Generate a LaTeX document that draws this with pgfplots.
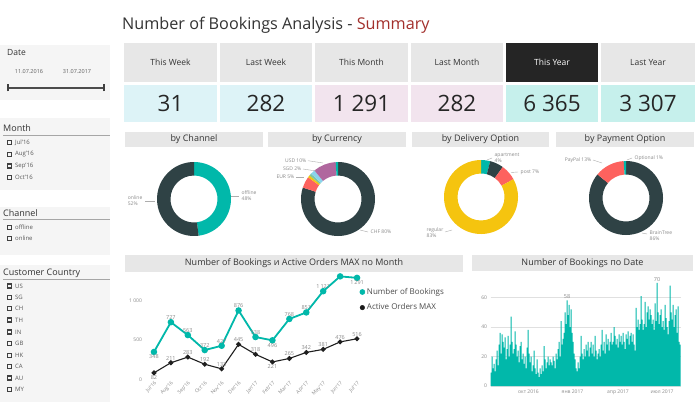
\documentclass[border=0pt]{standalone}
\usepackage{pgfplots}
\pgfplotsset{compat=1.18}
\usepackage{pgfplotstable}
\usepackage{fontspec}
\setmainfont{Open Sans}
\definecolor{pbteal}{HTML}{01B8AA}
\definecolor{pbdark}{HTML}{2F4245}
\definecolor{pbred}{HTML}{FD625E}
\definecolor{pbyellow}{HTML}{F5C40F}
\definecolor{pbgray}{HTML}{7FC8A0}
\definecolor{pblblue}{HTML}{8AD4EB}
\definecolor{pbpurple}{HTML}{B0679E}
\definecolor{titlered}{HTML}{A3302C}
\definecolor{txtdark}{HTML}{333333}
\definecolor{lblgray}{HTML}{8A8A8A}
\definecolor{hdrgray}{HTML}{E7E7E7}
\definecolor{panelbg}{HTML}{F5F5F5}
\definecolor{kpiblue}{HTML}{DDF3F7}
\definecolor{kpipink}{HTML}{F2E4EE}
\definecolor{kpiaqua}{HTML}{C6F0EC}
\definecolor{kpiblack}{HTML}{252525}

\newcommand{\donut}[3]{%
  \gdef\cum{0}%
  \foreach \p/\c in {#3} {%
    \pgfmathsetmacro\a{90-3.6*\cum}%
    \pgfmathsetmacro\b{90-3.6*(\cum+\p)}%
    \fill[\c,shift={(#1,#2)}] (\a:37pt) arc[start angle=\a,end angle=\b,radius=37pt] -- (\b:23.5pt) arc[start angle=\b,end angle=\a,radius=23.5pt] -- cycle;
    \pgfmathsetmacro\nc{\cum+\p}%
    \global\let\cum\nc
  }%
}

% monthly series
\pgfplotstableread{
x b a
0 348 82
1 727 211
2 563 283
3 372 192
4 427 133
5 876 445
6 538 318
7 496 221
8 768 265
9 851 342
10 1121 381
11 1310 476
12 1291 516
}\monthtbl
% data labels placed above / below the points
\pgfplotstableread{
x y l
1 727 727
2 563 563
3 372 372
4 427 427
5 876 876
6 538 538
8 768 768
9 851 851
10 1121 1\,121
1 211 211
2 283 283
3 192 192
4 133 133
5 445 445
6 318 318
8 265 265
9 342 342
10 381 381
11 476 476
12 516 516
}\lababove
\pgfplotstableread{
x y l
0 348 348
7 496 496
12 1291 1\,291
0 82 82
7 221 221
}\labbelow

\pgfplotstableread[row sep=\\]{
v\\
9\\20\\12\\15\\10\\18\\24\\14\\28\\36\\
22\\35\\30\\26\\33\\18\\25\\34\\20\\28\\
47\\30\\22\\25\\37\\28\\20\\24\\16\\27\\
30\\18\\22\\15\\20\\12\\26\\38\\22\\16\\
20\\10\\14\\24\\12\\8\\18\\9\\6\\12\\
8\\14\\10\\27\\18\\12\\16\\20\\14\\18\\
16\\14\\20\\17\\12\\22\\18\\25\\30\\20\\
44\\28\\32\\36\\50\\42\\58\\48\\55\\40\\
52\\36\\30\\22\\18\\12\\10\\16\\12\\20\\
34\\22\\18\\25\\20\\28\\24\\30\\20\\26\\
30\\22\\28\\20\\34\\24\\18\\22\\25\\20\\
28\\38\\24\\30\\22\\35\\28\\32\\24\\30\\
36\\28\\30\\40\\34\\28\\32\\26\\35\\30\\
34\\28\\36\\30\\25\\35\\32\\37\\28\\34\\
36\\30\\35\\28\\24\\53\\40\\45\\38\\42\\
61\\45\\38\\42\\57\\40\\50\\54\\45\\52\\
48\\42\\45\\38\\56\\44\\70\\50\\42\\48\\
52\\40\\44\\38\\55\\46\\40\\35\\44\\68\\
50\\45\\55\\40\\48\\52\\36\\54\\30\\28\\
}\daytbl

\begin{document}
\begin{tikzpicture}[x=1pt,y=1pt]
\fill[white] (0,0) rectangle (700,402);

% ---------- title
\node[anchor=west,inner sep=0,text=txtdark,font=\fontsize{16.2}{18}\selectfont] at (122,377) {Number of Bookings Analysis - \textcolor{titlered}{Summary}};

% ---------- KPI cards
\foreach \xa/\xb/\lab/\val/\bg/\hc/\tc in {124/217/This Week/31/kpiblue/hdrgray/txtdark, 220/312/Last Week/282/kpiblue/hdrgray/txtdark, 315/408/This Month/1 291/kpipink/hdrgray/txtdark, 411/503/Last Month/282/kpipink/hdrgray/txtdark, 506/598/This Year/6 365/kpiaqua/kpiblack/white, 601/695/Last Year/3 307/kpiaqua/hdrgray/txtdark} {
  \fill[\hc] (\xa,320) rectangle (\xb,359);
  \node[text=\tc,font=\fontsize{8.5}{10}\selectfont] at ({(\xa+\xb)/2},339.5) {\lab};
  \fill[\bg] (\xa,280) rectangle (\xb,317);
  \node[text=black!85,font=\fontsize{22.5}{26}\selectfont] at ({(\xa+\xb)/2},298.5) {\val};
}

% ---------- left slicers
\fill[panelbg] (0,302) rectangle (110,357);
\node[anchor=west,inner sep=0,text=txtdark,font=\fontsize{8.5}{10}\selectfont] at (7,349) {Date};
\node[text=txtdark!80,font=\fontsize{5.5}{6}\selectfont] at (29,330) {11.07.2016};
\node[text=txtdark!80,font=\fontsize{5.5}{6}\selectfont] at (77,330) {31.07.2017};
\draw[line width=1.6pt,color=black!70] (8,314) -- (104,314);
\draw[line width=1.2pt,color=black!75] (8,310.5) -- (8,317.5) (104,310.5) -- (104,317.5);

\fill[panelbg] (0,212) rectangle (110,284);
\node[anchor=west,inner sep=0,text=txtdark,font=\fontsize{9}{10}\selectfont] at (3,274) {Month};
\draw[black!35,line width=0.6pt] (3,267) -- (110,267);
\foreach \yy/\tt in {259.3/Jul'16, 247.7/Aug'16, 236/Sep'16, 224.3/Oct'16} {
  \draw[line width=1.1pt,color=black!75] (7.6,\yy-2) rectangle (11.6,\yy+2);
  \node[anchor=west,inner sep=0,text=black!65,font=\fontsize{6}{7}\selectfont] at (15,\yy) {\tt};
}

\fill[panelbg] (0,147) rectangle (110,195);
\node[anchor=west,inner sep=0,text=txtdark,font=\fontsize{9}{10}\selectfont] at (3,188.7) {Channel};
\draw[black!35,line width=0.6pt] (3,182.7) -- (110,182.7);
\foreach \yy/\tt in {174.3/offline, 163.7/online} {
  \draw[line width=1.1pt,color=black!75] (7.6,\yy-2) rectangle (11.6,\yy+2);
  \node[anchor=west,inner sep=0,text=black!65,font=\fontsize{6}{7}\selectfont] at (15,\yy) {\tt};
}

\fill[panelbg] (0,0) rectangle (110,137);
\node[anchor=west,inner sep=0,text=txtdark,font=\fontsize{9}{10}\selectfont] at (3,128.7) {Customer Country};
\draw[black!35,line width=0.6pt] (3,122.7) -- (110,122.7);
\foreach \yy/\tt in {116/US, 104.7/SG, 93.3/CH, 82/TH, 70/IN, 58.7/GB, 46.7/HK, 35.3/CA, 24/AU, 12.7/MY} {
  \draw[line width=1.1pt,color=black!75] (7.6,\yy-2) rectangle (11.6,\yy+2);
  \node[anchor=west,inner sep=0,text=black!65,font=\fontsize{6}{7}\selectfont] at (15,\yy) {\tt};
}

% ---------- donut titles
\foreach \xa/\xb/\tt in {125/263/by Channel, 268/406/by Currency, 412/549/by Delivery Option, 556/694/by Payment Option} {
  \fill[hdrgray] (\xa,255) rectangle (\xb,270);
  \node[text=txtdark,font=\fontsize{9}{10}\selectfont] at ({(\xa+\xb)/2},262.5) {\tt};
}

% ---------- donuts
\donut{194}{203}{48/pbteal, 52/pbdark}
\donut{338}{203}{80/pbdark, 5/pbred, 1/pbyellow, 1/pbgray, 2/pblblue, 10/pbpurple, 1/pbteal}
\donut{481}{205}{4/pbteal, 6/pbdark, 7/pbred, 83/pbyellow}
\donut{626}{204}{86/pbdark, 13/pbred, 1/pbteal}

\begin{scope}[every node/.style={text=lblgray,font=\fontsize{5}{6}\selectfont,inner sep=0.5pt}]
\node[anchor=east,align=left] at (143,201) {online\\52\%};
\draw[lblgray!70,line width=0.4pt] (145,201) -- (155,201);
\node[anchor=west,align=left] at (241,206) {offline\\48\%};
\draw[lblgray!70,line width=0.4pt] (231,206) -- (239,206);
\node[anchor=east] at (307,241.3) {USD 10\%};
\draw[lblgray!70,line width=0.4pt] (308,241.3) -- (323,239);
\node[anchor=east] at (302,233) {SGD 2\%};
\draw[lblgray!70,line width=0.4pt] (303,233) -- (316,231);
\node[anchor=east] at (295,225) {EUR 5\%};
\draw[lblgray!70,line width=0.4pt] (296,225) -- (304,225);
\node[anchor=west] at (370,170) {CHF 80\%};
\draw[lblgray!70,line width=0.4pt] (360,172) -- (368,170);
\node[anchor=west,align=left] at (494,244.5) {apartment\\4\%};
\draw[lblgray!70,line width=0.4pt] (487,242) -- (492,244);
\node[anchor=west] at (520,230) {post 7\%};
\draw[lblgray!70,line width=0.4pt] (511,229.5) -- (518,230);
\node[anchor=east,align=left] at (444,169.5) {regular\\83\%};
\draw[lblgray!70,line width=0.4pt] (445,170) -- (452,172);
\node[anchor=east] at (592,242) {PayPal 13\%};
\draw[lblgray!70,line width=0.4pt] (593,242) -- (602,239);
\node[anchor=west] at (634,244) {Optional 1\%};
\draw[lblgray!70,line width=0.4pt] (627,242) -- (632,244);
\node[anchor=west,align=left] at (649,166.5) {BrainTree\\86\%};
\draw[lblgray!70,line width=0.4pt] (642,169) -- (647,168);
\end{scope}

% ---------- chart titles
\fill[hdrgray] (125,130.5) rectangle (463,147);
\node[text=txtdark,font=\fontsize{9}{10}\selectfont] at (294,138.7) {Number of Bookings и Active Orders MAX по Month};
\fill[hdrgray] (472,131) rectangle (693,147);
\node[text=txtdark,font=\fontsize{9}{10}\selectfont] at (582.5,139) {Number of Bookings по Date};

% ---------- line chart
\begin{axis}[
  at={(145.5pt,22.7pt)}, anchor=south west, scale only axis,
  width=220pt, height=104.5pt,
  xmin=-0.5, xmax=12.5, ymin=0, ymax=1330,
  axis line style={draw=none}, major tick length=0pt,
  clip=false,
  /pgf/number format/assume math mode=true,
  xtick={0,...,12},
  xticklabels={Jul'16,Aug'16,Sep'16,Oct'16,Nov'16,Dec'16,Jan'17,Feb'17,Mar'17,Apr'17,May'17,Jun'17,Jul'17},
  xticklabel style={rotate=45,anchor=north east,font=\fontsize{5}{6}\selectfont,text=lblgray,inner sep=1pt},
  ytick={0,500,1000}, yticklabels={0,500,1 000},
  yticklabel style={font=\fontsize{5}{6}\selectfont,text=lblgray},
  legend style={at={(0.973,0.893)},anchor=north west,draw=none,fill=none,
    font=\fontsize{8}{9}\selectfont,text=black!70,row sep=4pt,inner sep=0pt},
  legend cell align=left,
]
\addlegendimage{only marks,mark=*,mark size=2.6pt,color=pbteal}
\addlegendentry{Number of Bookings}
\addlegendimage{only marks,mark=*,mark size=2.3pt,color=black!90}
\addlegendentry{Active Orders MAX}
\addplot[forget plot,color=pbteal,line width=1.8pt,mark=*,mark size=2.3pt]
  table[x=x,y=b] {\monthtbl};
\addplot[forget plot,color=black!88,line width=1.1pt,mark=*,mark size=1.9pt]
  table[x=x,y=a] {\monthtbl};
\addplot[forget plot,draw=none,mark=none,point meta=explicit symbolic,
  nodes near coords,
  every node near coord/.append style={anchor=south,font=\fontsize{5.5}{6}\selectfont,text=lblgray,inner sep=2.5pt}]
  table[x=x,y=y,meta=l] {\lababove};
\addplot[forget plot,draw=none,mark=none,point meta=explicit symbolic,
  nodes near coords,
  every node near coord/.append style={anchor=north,font=\fontsize{5.5}{6}\selectfont,text=lblgray,inner sep=2.5pt}]
  table[x=x,y=y,meta=l] {\labbelow};
\end{axis}

% ---------- daily bar chart
\begin{axis}[
  at={(490.5pt,16pt)}, anchor=south west, scale only axis,
  width=190pt, height=118pt,
  xmin=-0.5, xmax=189.5, ymin=0, ymax=80,
  axis line style={draw=none}, major tick length=0pt,
  clip=false,
  /pgf/number format/assume math mode=true,
  ytick={0,20,40,60},
  ymajorgrids, grid style={black!12,line width=0.4pt},
  xtick={37.5,81.5,127,171},
  xticklabels={окт 2016,янв 2017,апр 2017,июл 2017},
  ticklabel style={font=\fontsize{5}{6}\selectfont,text=lblgray},
]
\addplot[ybar,bar width=1,fill=pbteal,draw=none] table[x expr=\coordindex,y=v] {\daytbl};
\node[above,font=\fontsize{5.5}{6}\selectfont,text=lblgray,inner sep=1.5pt] at (axis cs:76,58) {58};
\node[above,font=\fontsize{5.5}{6}\selectfont,text=lblgray,inner sep=1.5pt] at (axis cs:166,70) {70};
\end{axis}
\pgfresetboundingbox
\useasboundingbox (0,0) rectangle (700,402);
\end{tikzpicture}
\end{document}
